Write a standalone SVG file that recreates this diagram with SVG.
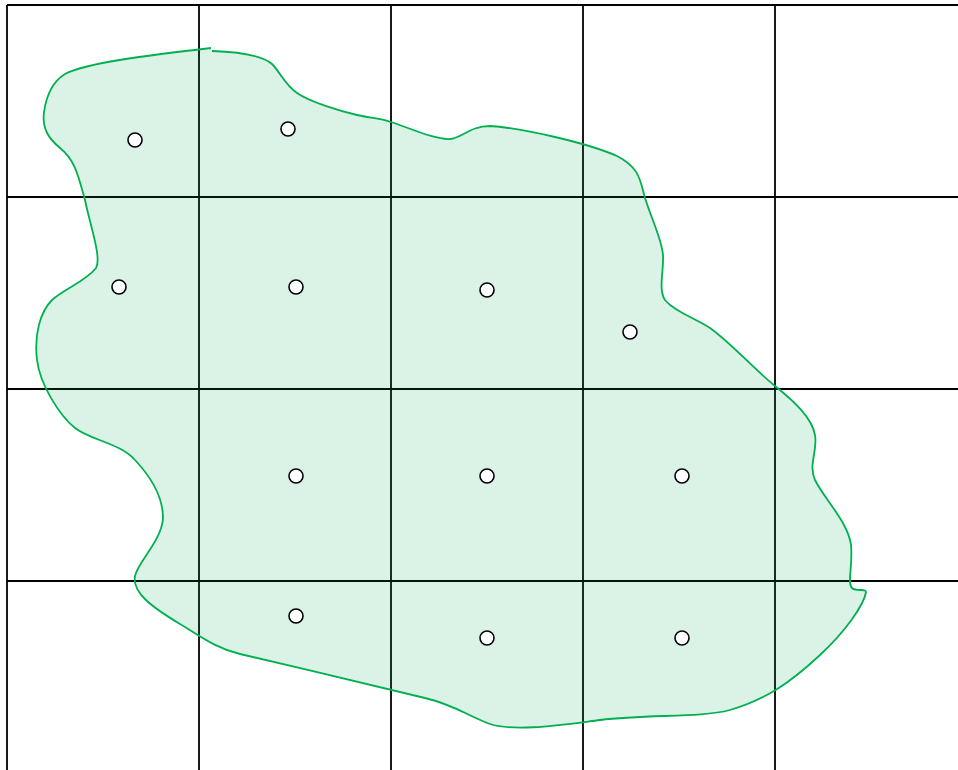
<svg xmlns="http://www.w3.org/2000/svg" width="958" height="770" viewBox="0 0 958 770">
<style>
.grid line{stroke:#000;stroke-width:1.8}
.region{fill:#00a550;fill-opacity:0.14;stroke:#00b050;stroke-width:1.8}
.pt{fill:#fff;stroke:#000;stroke-width:1.6}
</style>
<rect width="958" height="770" fill="#fff"/>
<g id="grid" class="grid">
<line x1="7" y1="5" x2="958" y2="5"/>
<line x1="7" y1="197" x2="958" y2="197"/>
<line x1="7" y1="389" x2="958" y2="389"/>
<line x1="7" y1="581" x2="958" y2="581"/>
<line x1="7" y1="5" x2="7" y2="770"/>
<line x1="199" y1="5" x2="199" y2="770"/>
<line x1="391" y1="5" x2="391" y2="770"/>
<line x1="583" y1="5" x2="583" y2="770"/>
<line x1="775" y1="5" x2="775" y2="770"/>
</g>
<g id="region">
<path class="region" d="M 212 51 C 240 52, 262 55, 272 64 C 280 72, 285 85, 297 93 C 310 102, 340 111, 357 115 C 370 118, 380 118, 391 122 C 410 128, 435 140, 450 139 C 462 138, 470 126, 490 126 C 520 128, 585 142, 617 156 C 640 168, 640 180, 645 198 C 652 220, 662 240, 663 255 C 664 270, 658 290, 665 300 C 675 312, 695 318, 710 328 C 730 342, 755 370, 775 386 C 795 402, 812 418, 815 435 C 818 450, 808 465, 815 480 C 825 500, 848 522, 851 545 C 853 565, 847 583, 852 588 C 856 592, 866 588, 866 592 C 864 605, 845 632, 820 655 C 790 683, 765 700, 730 710 C 700 718, 650 714, 600 720 C 560 725, 515 732, 490 724 C 470 717, 455 705, 425 698 C 385 688, 300 668, 240 654 C 215 648, 200 636, 180 624 C 150 606, 132 592, 135 576 C 138 562, 162 540, 163 518 C 163 495, 150 476, 135 460 C 120 443, 90 440, 75 428 C 60 416, 40 385, 37 360 C 34 335, 40 312, 52 300 C 65 288, 85 282, 96 268 C 102 258, 90 225, 85 200 C 78 175, 75 160, 60 148 C 48 138, 42 128, 44 112 C 46 98, 52 82, 65 74 C 85 63, 150 55, 211 48"/>
</g>
<g id="points">
<circle class="pt" cx="135" cy="140" r="7"/>
<circle class="pt" cx="288" cy="129" r="7"/>
<circle class="pt" cx="119" cy="287" r="7"/>
<circle class="pt" cx="296" cy="287" r="7"/>
<circle class="pt" cx="487" cy="290" r="7"/>
<circle class="pt" cx="630" cy="332" r="7"/>
<circle class="pt" cx="296" cy="476" r="7"/>
<circle class="pt" cx="487" cy="476" r="7"/>
<circle class="pt" cx="682" cy="476" r="7"/>
<circle class="pt" cx="296" cy="616" r="7"/>
<circle class="pt" cx="487" cy="638" r="7"/>
<circle class="pt" cx="682" cy="638" r="7"/>
</g>
</svg>
